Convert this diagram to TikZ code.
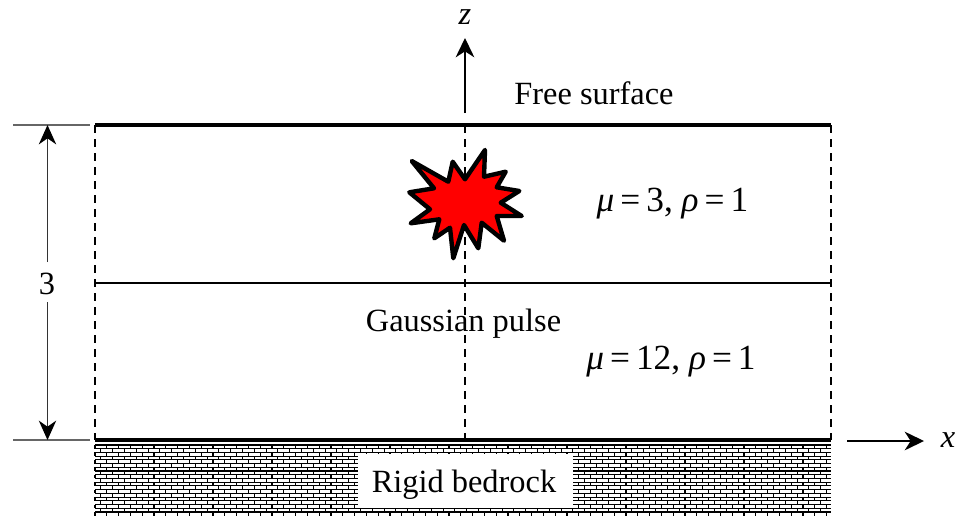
\documentclass[tikz,border=0pt]{standalone}
\usepackage{fontspec}
\setmainfont{Liberation Serif}
\usetikzlibrary{arrows.meta}
\newcommand{\ptxt}{\fontsize{24.3pt}{28pt}\selectfont}
\newcommand{\pmath}{\fontsize{26.5pt}{30pt}\selectfont}
\newcommand{\eqsp}{\hspace{4.5pt}=\hspace{4.5pt}}
\tikzset{
  lbl/.style={inner sep=0pt,outer sep=0pt,font=\ptxt,text=black},
  mathlbl/.style={inner sep=0pt,outer sep=0pt,font=\pmath,text=black},
  thickline/.style={line width=2.7pt,black},
  midline/.style={line width=1.4pt,black},
  dashline/.style={line width=1.3pt,black,dash pattern=on 6pt off 4.5pt},
  axisline/.style={line width=1.1pt,black,-{Stealth[length=14.5pt,width=14pt,inset=4.5pt]}},
  dimline/.style={line width=1.3pt,black!80,-{Stealth[length=14.5pt,width=13pt,inset=4.5pt,black]}},
  extline/.style={line width=0.9pt,black!60},
  burst/.style={fill=red,draw=black,line width=3.3pt,line join=round},
  brick/.style={line width=0.85pt,black},
}
\begin{document}
\begin{tikzpicture}[x=0.75pt,y=-0.75pt]
\useasboundingbox (0,0) rectangle (971,529);
% key points
\coordinate (TL) at (95,125);
\coordinate (TR) at (831,125);
\coordinate (ML) at (95,283);
\coordinate (MR) at (831,283);
\coordinate (BL) at (95,440);
\coordinate (BR) at (831,440);
\coordinate (ZB) at (465,113);
\coordinate (ZT) at (465,38);
\coordinate (DC) at (465,125);
\coordinate (DD) at (465,440);
\coordinate (XL) at (847,441);
\coordinate (XR) at (924,441);
\coordinate (ETL) at (13,125);
\coordinate (ETR) at (90,125);
\coordinate (EBL) at (13,440);
\coordinate (EBR) at (90,440);
\coordinate (D1) at (47.5,262);
\coordinate (D1T) at (47.5,125);
\coordinate (D2) at (47.5,302);
\coordinate (D2B) at (47.5,440);
% brick hatching
\foreach \r in {0,...,18}{
  \pgfmathsetmacro{\yy}{445+3.72*\r}
  \pgfmathsetmacro{\yn}{\yy+3.72}
  \draw[brick] (95,\yy) -- (831,\yy);
  \pgfmathsetmacro{\off}{mod(\r,2)*5.9}
  \foreach \c in {0,...,62}{
    \pgfmathsetmacro{\xx}{95+\off+11.8*\c}
    \ifdim\xx pt<831pt \draw[brick] (\xx,\yy) -- (\xx,\yn); \fi
  }
}
\node[fill=white,minimum width=161pt,minimum height=40pt,inner sep=0pt] (bedbox) at (465.5,481) {};
\node[lbl] (bedrock) at (464,484.5) {Rigid bedrock};
% box
\draw[dashline] (TL) -- (BL);
\draw[dashline] (TR) -- (BR);
\draw[dashline] (DC) -- (DD);
\draw[thickline] (TL) -- (TR);
\draw[thickline] (BL) -- (BR);
\draw[midline] (ML) -- (MR);
% axes
\draw[axisline] (ZB) -- (ZT);
\draw[axisline] (XL) -- (XR);
\node[lbl] (zlab) at (465,17) {\textit{z}};
\node[lbl] (xlab) at (948,440) {\textit{x}};
% dimension
\draw[extline] (ETL) -- (ETR);
\draw[extline] (EBL) -- (EBR);
\draw[dimline] (D1) -- (D1T);
\draw[dimline] (D2) -- (D2B);
\node[lbl] (three) at (47,284) {3};
% burst
\draw[burst] (411.7,161) -- (448.3,181.7) -- (452.7,161.7) -- (465,179.3) -- (485,150) -- (484,176.7)
 -- (505.7,171.7) -- (496.7,187.3) -- (519.3,191) -- (500.7,202.7) -- (521.7,216) -- (496.7,216)
 -- (504,240.7) -- (481.7,222.7) -- (478.3,248.3) -- (464,225) -- (453.3,258.3) -- (450,227.7)
 -- (434.3,238.3) -- (439.3,219.3) -- (410.7,223.3) -- (430,209.3) -- (409.3,192.3) -- (434,188.3) -- cycle;
% labels
\node[lbl] (free) at (594,93) {Free surface};
\node[lbl] (gauss) at (463.5,324) {Gaussian pulse};
\node[mathlbl] (upper) at (672.5,204) {\textit{μ}\eqsp3, \textit{ρ}\eqsp1};
\node[mathlbl] (lower) at (671,362) {\textit{μ}\eqsp12, \textit{ρ}\eqsp1};
\end{tikzpicture}
\end{document}
